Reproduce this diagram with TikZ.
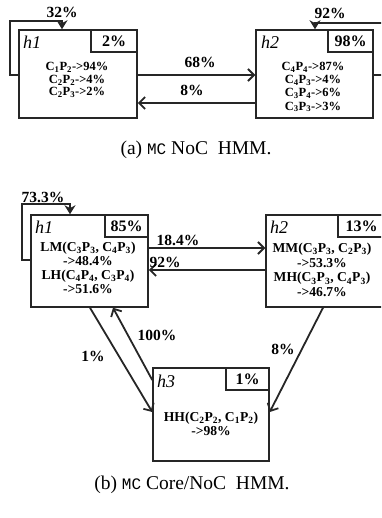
\documentclass[tikz,border=0pt]{standalone}
\usepackage{fontspec}
\setmainfont{Liberation Serif}
\newfontfamily\monof{Liberation Mono}
\usetikzlibrary{arrows.meta}
\begin{document}
\begin{tikzpicture}[x=1pt,y=-1pt,
  box/.style={draw=black!85, line width=1.5pt, inner sep=0pt},
  pbox/.style={draw=black!85, line width=1.1pt, inner sep=0pt, font=\fontsize{16}{16}\selectfont\bfseries},
  lbl/.style={font=\fontsize{15.5}{16}\selectfont\bfseries, inner sep=0pt},
  hname/.style={font=\fontsize{18}{18}\selectfont\itshape, inner sep=0pt, anchor=west},
  conta/.style={align=center, inner sep=0pt, font=\fontsize{12.5}{12.6}\selectfont\bfseries},
  contb/.style={align=center, inner sep=0pt, font=\fontsize{13.6}{14.2}\selectfont\bfseries},
  conn/.style={draw=black!85, line width=1.8pt, -{Straight Barb[length=6pt,width=12pt,line width=1.8pt]}},
  selfloop/.style={draw=black!85, line width=1.8pt, -{Stealth[length=9pt,width=11pt]}},
  capt/.style={font=\fontsize{19.5}{19.5}\selectfont, inner sep=0pt},
]
\useasboundingbox (0,0) rectangle (381,518);
\clip (0,0) rectangle (381,518);

% ---------------- (a) ----------------
\node[box, minimum width=118pt, minimum height=88pt] (h1a) at (78,74) {};
\node[pbox, minimum width=46pt, minimum height=22pt] (p1a) at (114,41) {2\%};
\node[hname] (n1a) at (23,42) {h1};
\node[conta] (t1a) at (77,80) {C\textsubscript{1}P\textsubscript{2}->94\%\\C\textsubscript{2}P\textsubscript{2}->4\%\\C\textsubscript{2}P\textsubscript{3}->2\%};

\node[box, minimum width=117pt, minimum height=88pt] (h2a) at (314.5,74) {};
\node[pbox, minimum width=45pt, minimum height=22pt] (p2a) at (350.5,41) {98\%};
\node[hname] (n2a) at (261,42) {h2};
\node[conta, font=\fontsize{12.5}{13.2}\selectfont\bfseries] (t2a) at (313,87) {C\textsubscript{4}P\textsubscript{4}->87\%\\C\textsubscript{4}P\textsubscript{3}->4\%\\C\textsubscript{3}P\textsubscript{4}->6\%\\C\textsubscript{3}P\textsubscript{3}->3\%};

\coordinate (ya1) at (0,75);
\coordinate (ya2) at (0,103);
\draw[conn] (h1a.east |- ya1) -- (h2a.west |- ya1);
\draw[conn] (h2a.west |- ya2) -- (h1a.east |- ya2);
\node[lbl] (q68) at (200,62) {68\%};
\node[lbl] (q8a) at (192,90) {8\%};

\coordinate (l1a) at (10,75);
\coordinate (l1b) at (10,21);
\coordinate (l1c) at (62,21);
\draw[selfloop] (h1a.west |- l1a) -- (l1a) -- (l1b) -- (l1c) -- (h1a.north -| l1c);
\node[lbl] (q32) at (62,12) {32\%};

\coordinate (l2a) at (392,75);
\coordinate (l2b) at (392,23);
\coordinate (l2c) at (315,23);
\draw[selfloop] (h2a.east |- l2a) -- (l2a) -- (l2b) -- (l2c) -- (h2a.north -| l2c);
\node[lbl] (q92a) at (330,13) {92\%};

\node[capt] (capa) at (196,150) {(a) {\monof\fontsize{16}{16}\selectfont MC} NoC\ \ HMM.};

% ---------------- (b) ----------------
\node[box, minimum width=117pt, minimum height=92pt] (h1b) at (89.5,261) {};
\node[pbox, minimum width=43pt, minimum height=22pt] (p1b) at (126.5,226) {85\%};
\node[hname] (n1b) at (35,227) {h1};
\node[contb] (t1b) at (88,268) {LM(C\textsubscript{3}P\textsubscript{3}, C\textsubscript{4}P\textsubscript{3})\\->48.4\%\\LH(C\textsubscript{4}P\textsubscript{4}, C\textsubscript{3}P\textsubscript{4})\\->51.6\%};

\node[box, minimum width=119pt, minimum height=92pt] (h2b) at (325.5,261) {};
\node[pbox, minimum width=47pt, minimum height=22pt] (p2b) at (361.5,226) {13\%};
\node[hname] (n2b) at (270,227) {h2};
\node[contb, font=\fontsize{13.6}{14.7}\selectfont\bfseries] (t2b) at (322,270) {MM(C\textsubscript{3}P\textsubscript{3}, C\textsubscript{2}P\textsubscript{3})\\->53.3\%\\MH(C\textsubscript{3}P\textsubscript{3}, C\textsubscript{4}P\textsubscript{3})\\->46.7\%};

\node[box, minimum width=116pt, minimum height=93pt] (h3) at (211,414.5) {};
\node[pbox, minimum width=43pt, minimum height=22pt] (p3) at (247.5,379) {1\%};
\node[hname] (n3) at (157,381) {h3};
\node[contb] (t3) at (211,424) {HH(C\textsubscript{2}P\textsubscript{2}, C\textsubscript{1}P\textsubscript{2})\\->98\%};

\coordinate (yb1) at (0,248);
\coordinate (yb2) at (0,270);
\draw[conn] (h1b.east |- yb1) -- (h2b.west |- yb1);
\draw[conn] (h2b.west |- yb2) -- (h1b.east |- yb2);
\node[lbl] (q184) at (178,240) {18.4\%};
\node[lbl] (q92b) at (165,262) {92\%};

\coordinate (m1a) at (22,260);
\coordinate (m1b) at (22,204);
\coordinate (m1c) at (70,204);
\draw[selfloop] (h1b.west |- m1a) -- (m1a) -- (m1b) -- (m1c) -- (h1b.north -| m1c);
\node[lbl] (q733) at (43,197) {73.3\%};

\coordinate (x90) at (90,0);
\coordinate (x113) at (113,0);
\coordinate (x323) at (323,0);
\coordinate (y412) at (0,412);
\coordinate (y380) at (0,380);
\draw[conn] (h1b.south -| x90) -- (h3.west |- y412);
\draw[conn] (h3.west |- y380) -- (h1b.south -| x113);
\draw[conn] (h2b.south -| x323) -- (h3.east |- y412);
\node[lbl] (q1b) at (93,356) {1\%};
\node[lbl] (q100) at (157,335) {100\%};
\node[lbl] (q8b) at (283,349) {8\%};

\node[capt] (capb) at (192,485) {(b) {\monof\fontsize{16}{16}\selectfont MC} Core/NoC\ \ HMM.};
\end{tikzpicture}
\end{document}
